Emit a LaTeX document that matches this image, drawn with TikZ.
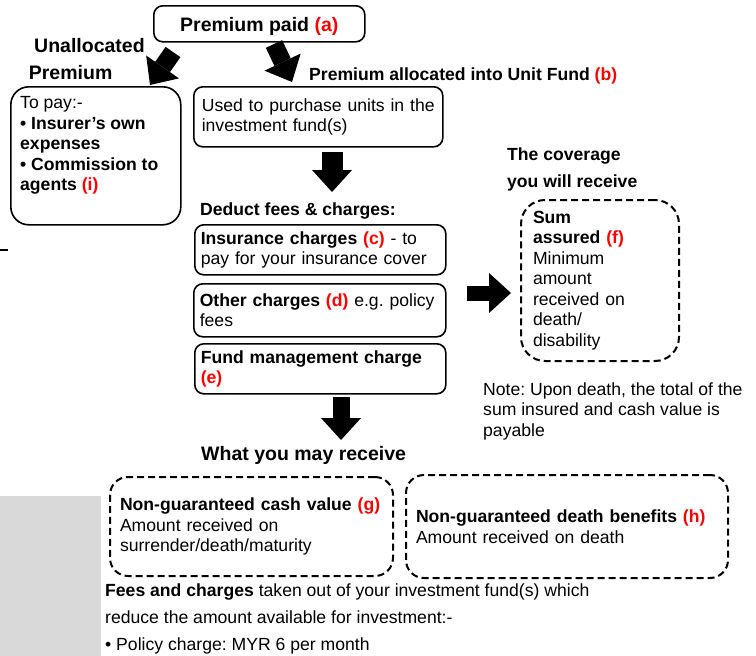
\documentclass[tikz,border=0pt]{standalone}
\usepackage{fontspec}
\setmainfont{Liberation Sans}
\usepackage{tikz}
\usetikzlibrary{arrows.meta}
\definecolor{lblred}{RGB}{255,0,0}
\definecolor{sidegray}{RGB}{217,217,217}

\newcommand{\bodysize}{\fontsize{17.6}{20.5}\selectfont}
\newcommand{\bigsize}{\fontsize{19.5}{22}\selectfont}
\newcommand{\lbl}[1]{\textcolor{lblred}{\textbf{(#1)}}}
\frenchspacing

\tikzset{
  box/.style={draw, line width=1.6pt, rounded corners=9pt, anchor=north west,
    inner xsep=7pt, inner ysep=0pt, align=left, font=\bodysize},
  dashbox/.style={box, line width=2pt, dash pattern=on 7pt off 4pt},
  txt/.style={inner sep=0pt, anchor=base west, align=left, font=\bodysize},
  blocktxt/.style={txt, anchor=north west},
  headtxt/.style={txt, font=\bigsize\bfseries},
  fatarrow/.style={line width=#1, -{Triangle[width=40pt, length=22pt, line width=0pt]}},
}

\begin{document}
\begin{tikzpicture}[x=1pt, y=-1pt]
    \useasboundingbox (0,0) rectangle (756,656);
    \fill[sidegray] (0,496) rectangle (101,656);
    \draw[line width=2.5pt] (0,250) -- (8,250);

    % Premium paid
    \node[box, align=center, font=\bigsize\bfseries, text height=20pt, minimum width=211pt, minimum height=36pt] (paid) at (153,5) {Premium paid \lbl{a}};
    \node[headtxt] (unalloc) at (34,52.7) {Unallocated};
    \node[headtxt] (unallocb) at (28.7,79.3) {Premium};
    \node[txt, font=\bodysize\bfseries] (alloc) at (309,80) {Premium allocated into Unit Fund \lbl{b}};

    % Unallocated premium
    \node[box, rounded corners=18pt, minimum width=170pt, minimum height=138pt] (paybox) at (10,86) {};
    \node[blocktxt] (paytext) at ([shift={(10,10.4)}]paybox.north west) {To pay:-\\
      \textbf{\textbullet{} Insurer’s own}\\
      \textbf{expenses}\\
      \textbf{\textbullet{} Commission to}\\
      \textbf{agents \lbl{i}}};

    % Allocated premium and charges
    \node[box, text width=233pt, inner xsep=8pt, minimum height=60pt] (buy) at (193,86) {Used to purchase units in the\\investment fund(s)};
    \node[txt, font=\bodysize\bfseries] (deduct) at (200,215) {Deduct fees \& charges:};
    \node[box, text width=239pt, inner xsep=6pt, minimum height=50pt] (ins) at (194,224) {\textbf{Insurance charges \lbl{c}} - to\\pay for your insurance cover};
    \node[box, text width=240pt, inner xsep=6pt, minimum height=53pt] (other) at (193,283) {\textbf{Other charges \lbl{d}} e.g. policy\\fees};
    \node[box, text width=239pt, inner xsep=6pt, minimum height=50pt] (fmc) at (194,343) {\textbf{Fund management charge}\\\lbl{e}};
    \node[headtxt] (what) at (201,460.7) {What you may receive};

    % Coverage
    \node[blocktxt, font=\fontsize{17.6}{26.6}\selectfont\bfseries] (cover) at (507,147.9) {The coverage\\you will receive};
    \node[dashbox, rounded corners=24pt, text width=134pt, inner xsep=12pt, minimum height=161pt] (sum) at (520,199) {\textbf{Sum}\\\textbf{assured \lbl{f}}\\Minimum\\amount\\received on\\death/\\disability};
    \node[blocktxt] (note) at (483,382.2) {Note: Upon death, the total of the\\sum insured and cash value is\\payable};

    % What you may receive
    \node[dashbox, rounded corners=18pt, text width=263pt, inner xsep=10pt, minimum height=99pt] (cash) at (109,476) {\textbf{Non-guaranteed cash value \lbl{g}}\\Amount received on\\surrender/death/maturity};
    \node[dashbox, rounded corners=18pt, text width=302pt, inner xsep=10pt, minimum height=103pt] (death) at (405,474) {\textbf{Non-guaranteed death benefits \lbl{h}}\\Amount received on death};
    \node[blocktxt, font=\fontsize{17.6}{27}\selectfont] (fees) at (105,583.9) {\textbf{Fees and charges} taken out of your investment fund(s) which\\
      reduce the amount available for investment:-\\
      \textbullet{} Policy charge: MYR 6 per month};

    % Block arrows
    \coordinate (leftfrom) at (173,52);
    \coordinate (leftto) at (150,85);
    \coordinate (rightfrom) at (274,44);
    \coordinate (rightto) at (292,82);
    \coordinate (buyfrom) at (332,152);
    \coordinate (buyto) at (332,192);
    \coordinate (fmcfrom) at (341,397);
    \coordinate (fmcto) at (341,440);
    \coordinate (sumfrom) at (467,293);
    \coordinate (sumto) at (511,293);
    \draw[fatarrow=18pt] (leftfrom) -- (leftto);
    \draw[fatarrow=18pt] (rightfrom) -- (rightto);
    \draw[fatarrow=21pt] (buyfrom) -- (buyto);
    \draw[fatarrow=17pt] (fmcfrom) -- (fmcto);
    \draw[fatarrow=15pt] (sumfrom) -- (sumto);
\end{tikzpicture}
\end{document}
